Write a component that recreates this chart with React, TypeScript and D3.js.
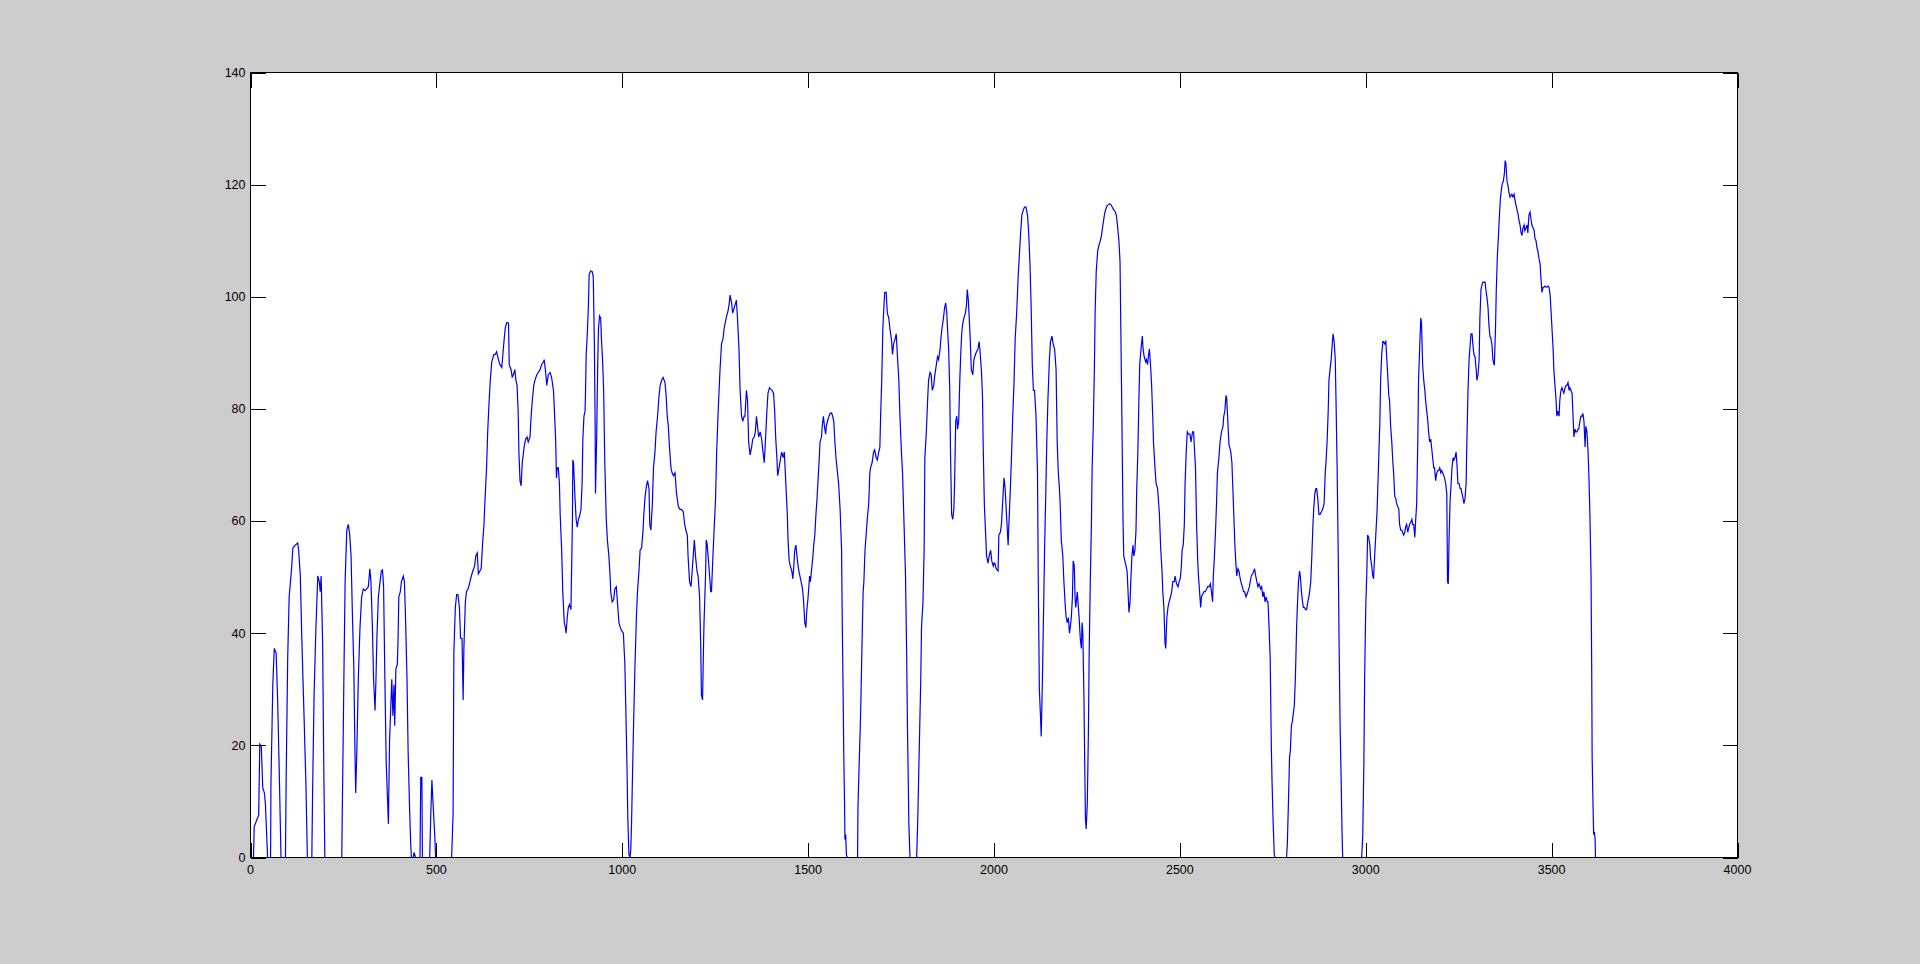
import React from "react";
import * as d3 from "d3";

// Tick values
const xTicks = [0, 500, 1000, 1500, 2000, 2500, 3000, 3500, 4000];
const yTicks = [0, 20, 40, 60, 80, 100, 120, 140];

// Series: [x, y]
const partA: [number, number][] = [
  [1,0],[8,0],[10,5.5],[13,6.0],[18,6.9],[22,7.5],[25,20.2],[29,19.8],[33,12.4],[37.5,11.5],[40,9.7],[46,0],[54,0],[55,13.3],[60,30.8],[64,37.3],[69,36.4],[73,28.1],[78,13.3],[82,0],[94,0],[96,14.3],[100,35.4],[104,46.5],[110,51.1],[114,55.2],[120.5,55.7],[127,56.1],[129.5,54.8],[134,50.2],[138,39.1],[144,25.3],[149,13.3],[153,0],[165,0],[167,11.5],[171,29.0],[176,41.0],[181,50.2],[185,49.2],[187.5,47.4],[190,50.2],[194,38.2],[197,17.0],[200,0],[245.5,0],[247,8.7],[251,30.8],[254.5,49.2],[259,58.4],[263,59.4],[267,57.5],[270.5,53.8],[274,43.7],[278,33.6],[281,18.9],[283,11.5],[286,18.9],[290,31.8],[294.5,41.0],[299,46.5],[303.5,47.9],[308,47.6],[312.5,47.9],[317,48.3],[321,51.5],[324,49.2],[328,41.0],[331,31.8],[335,26.2],[337.5,31.8],[340,39.1],[344,46.5],[347,48.3],[352,51.1],[355,51.3],[358,48.3],[361.5,31.8],[365,17.0],[369,9.7],[371,6.0],[374,20.7],[378,28.1],[380,31.8],[383,25.3],[386,30.8],[388,23.5],[391,33.6],[395,34.5],[397,39.1],[399,46.5],[403,47.4],[406,49.2],[411,50.2],[414,49.2],[417,42.8],[421,31.8],[424,18.9],[428,8.7],[431,2.3],[433,0],[438,0],[440,0.9],[444,0],[456,0],[458,14.3],[461,14.3],[462.5,0],[482,0],[485,7.8],[488,13.8],[491,9.7],[495.5,4.1],[498,0],[541,0],[545,7.8],[547,36.4],[551,44.6],[554.5,46.9],[558,46.9],[562,44.6],[565,39.1],[569,39.1],[572,28.1],[574,37.3],[578,45.6],[581,47.4],[585,47.9],[589,48.8],[594,50.2],[598,51.1],[603,52.0],[606,53.8],[610,54.3],[613,50.6],[617,51.1],[620.5,51.5],[624,55.7],[628,59.4],[631,64.0],[635,69.5],[638,75.9],[642,81.5],[645,85.1],[649,88.4],[654.5,89.7]
];

const partB: [number, number][] = [
  [658,89.7],[662,90.2],[667,88.8],[671,87.9],[676,87.4],[680,90.7],[685,94.3],[689,95.4],[694,95.3],[696,87.9],[701,87.0],[704,85.6],[709,86.5],[711,87.0],[714,85.1],[717,84.2],[720,79.6],[722,72.3],[725,67.2],[728,66.3],[731,70.4],[736,73.2],[740,74.6],[744,75.0],[747,74.1],[752,75.0],[754,77.8],[758,81.5],[762,84.2],[765,85.1],[770,86.1],[774,86.5],[779,87.0],[783,87.9],[788,88.4],[790,88.8],[794,86.5],[797,84.2],[801,86.1],[806,86.5],[810,85.6],[815,83.3],[817,80.5],[821,74.1],[823,67.7],[825,69.5],[828,69.5],[831,66.7],[833,61.2],[837,54.8],[840,47.4],[844,41.9],[847,41.0],[849,40.0],[852,42.8],[855,44.6],[858,45.1],[862,44.2],[866,60.3],[867,70.9],[869,70.4],[873,64.0],[876,60.3],[879,58.9],[882,60.3],[885,60.8],[889,62.1],[892,66.7],[894,74.6],[897,78.7],[900,79.6],[901,82.4],[903,89.7],[906,93.4],[909,98.5],[911,104.0],[915,104.6],[919,104.5],[922,103.6],[925,91.6],[927,77.8],[928,64.9],[931,74.1],[934,87.9],[936,94.3],[939,96.6],[942,96.2],[944,92.5],[947,88.8],[950,83.3],[953,70.4],[957,60.3],[960,56.6],[964,53.8],[967,50.6],[969,47.4],[973,45.6],[977,46.0],[980,47.9],[984,48.3],[987,45.6],[991,41.9],[995,41.0],[998,40.5],[1003,40.0],[1007,34.5],[1010,25.3],[1013,15.2],[1015,6.9],[1018,0.5],[1021,0],[1023,1.4],[1025,6.0],[1028,16.1],[1031,25.3],[1034,33.6],[1038,42.8],[1041,47.4],[1045,51.1],[1048,54.8],[1052,55.2],[1056,58.4],[1058,61.2],[1061,64.0],[1064,65.8],[1068,67.2],[1072,65.8],[1074,59.4],[1077,58.4],[1081,63.1],[1084,69.5],[1088,72.3],[1091,75.9],[1095,78.7],[1099,82.4],[1102,84.2],[1106,85.1],[1110,85.6],[1115,84.7],[1118,82.4],[1121,78.7],[1124,76.9],[1127,73.2],[1131,69.5],[1134,68.6],[1138,68.1],[1142,68.6],[1146,64.9],[1151,62.6],[1155,62.1],[1159,62.1],[1164,61.7],[1168,59.4],[1171,58.4],[1175,57.5],[1177,53.8],[1181,49.2],[1185,48.3],[1188,51.1],[1192,54.8],[1194,56.6],[1197,53.8],[1201,51.1],[1204,50.2],[1208,46.5],[1211,38.2],[1213,29.0],[1216,28.1],[1219,39.1],[1220,41.9],[1224,50.2],[1226,56.6],[1228,56.1],[1231,53.8],[1235,50.2],[1238,47.4],[1240,47.4],[1244,53.8],[1247,58.4],[1251,64.0],[1254,72.3],[1258,79.6],[1263,87.0],[1267,91.6],[1271,92.5],[1274,94.3],[1278,95.7],[1281,96.6],[1285,97.6],[1288,99.0],[1290,100.3],[1294,98.9],[1297,97.1],[1301,98.0],[1305,98.9],[1307,99.4],[1310,96.2],[1314,90.7],[1317,83.3],[1321,78.7],[1324,77.8],[1328,78.7]
];

const partC: [number, number][] = [
  [1330,78.7],[1334,83.3],[1337,81.5],[1340,74.1],[1344,71.8],[1348,73.2],[1351,74.6],[1355,75.0],[1358,75.9],[1361,78.7],[1364,76.9],[1367,75.0],[1371,75.9],[1375,74.6],[1378,72.7],[1382,70.4],[1385,74.1],[1389,79.6],[1392,82.8],[1396,83.8],[1400,83.5],[1403,83.3],[1407,82.8],[1410,79.6],[1413,74.6],[1416,71.3],[1418,68.1],[1422,69.5],[1426,71.3],[1429,72.3],[1433,71.3],[1436,72.3],[1440,66.7],[1444,61.2],[1446,56.6],[1449,52.9],[1452,52.0],[1456,51.1],[1459,49.7],[1461,51.5],[1464,54.8],[1467,55.7],[1470,53.8],[1472,52.5],[1475,51.1],[1478,50.2],[1481,49.2],[1484,48.3],[1487,46.5],[1491,41.9],[1494,41.0],[1496,43.7],[1500,46.5],[1504,50.2],[1506,49.2],[1509,51.1],[1513,53.8],[1515,55.7],[1518,57.5],[1521,61.2],[1524,64.0],[1527,67.7],[1530,71.3],[1532,74.1],[1536,75.0],[1538,76.9],[1541,78.7],[1544,76.9],[1547,75.5],[1549,76.9],[1552,77.8],[1556,78.7],[1559,79.2],[1563,79.3],[1566,78.7],[1569,77.8],[1572,74.1],[1575,71.3],[1579,68.6],[1582,66.7],[1586,62.1],[1590,54.8],[1592,41.0],[1594,29.9],[1596,17.9],[1598,9.7],[1599,3.2],[1601,4.1],[1603,0.5],[1605,0],[1633,0],[1634,8.7],[1637,16.1],[1640,22.6],[1642,28.1],[1645,38.2],[1648,47.4],[1650,49.2],[1653,54.8],[1656,57.5],[1659,60.3],[1663,63.1],[1666,68.6],[1668,69.5],[1672,70.4],[1676,72.3],[1679,72.7],[1683,71.3],[1686,70.9],[1690,72.3],[1693,73.2],[1695,78.7],[1698,85.1],[1701,94.3],[1703,97.1],[1706,100.8],[1710,100.8],[1713,97.1],[1717,96.2],[1720,94.3],[1724,92.5],[1727,89.7],[1730,91.6],[1734,92.5],[1737,93.4],[1740,89.7],[1744,85.1],[1747,78.7],[1751,72.3],[1754,68.6],[1758,59.4],[1762,50.2],[1765,36.4],[1767,24.4],[1769,15.2],[1771,6.0],[1774,0],[1792,0],[1795,6.9],[1797,13.3],[1800,22.6],[1803,31.8],[1805,41.0],[1809,45.6],[1812,54.8],[1814,71.3],[1818,75.9],[1822,82.4],[1824,85.1],[1828,86.5],[1831,86.1],[1834,83.3],[1838,84.2],[1840,85.6],[1843,87.0],[1846,88.4],[1848,89.3],[1851,88.8],[1855,90.7],[1857,92.5],[1860,94.3],[1864,96.2],[1867,98.0],[1870,98.9],[1873,97.1],[1875,94.3],[1878,90.7],[1881,83.3],[1883,72.3],[1886,61.2],[1889,60.3],[1892,62.1],[1894,66.7],[1897,77.8],[1900,78.7],[1902,76.4],[1905,77.8],[1908,85.1],[1910,88.8],[1913,93.4],[1916,95.3],[1919,96.2],[1923,97.1],[1926,98.5],[1928,101.3],[1931,99.4],[1934,95.3],[1936,92.5],[1939,87.0],[1943,86.1],[1946,88.8],[1950,89.7],[1953,90.2],[1957,90.7],[1960,92.0],[1962,90.7],[1966,87.0],[1969,82.4],[1971,73.2],[1974,63.1],[1977,58.4],[1980,53.8],[1984,52.5],[1987,53.8],[1991,54.8],[1994,52.9],[1998,52.0],[2000,52.5]
];

const partD: [number, number][] = [
  [2002,52.5],[2006,51.5],[2011,51.1],[2013,57.5],[2017,58.0],[2020,59.4],[2023,63.1],[2027,67.7],[2030,65.8],[2032,63.1],[2035,59.4],[2038,55.7],[2040,59.4],[2043,64.0],[2047,71.3],[2050,77.8],[2054,85.1],[2057,92.5],[2061,97.1],[2065,103.6],[2068,107.2],[2072,111.8],[2075,114.6],[2079,115.5],[2082,116.0],[2086,116.0],[2090,114.6],[2093,111.8],[2097,105.4],[2100,98.0],[2103,87.9],[2106,83.3],[2109,83.3],[2113,78.7],[2117,68.6],[2119,50.2],[2122,29.9],[2125,25.3],[2127,21.6],[2130,30.8],[2134,46.5],[2136,54.8],[2139,64.0],[2142,74.1],[2145,81.5],[2149,88.8],[2152,92.0],[2156,93.0],[2159,91.6],[2163,90.7],[2167,87.0],[2170,74.1],[2173,68.6],[2176,65.8],[2178,63.1],[2181,56.6],[2185,53.8],[2188,49.2],[2192,44.6],[2194,42.8],[2197,41.9],[2200,42.8],[2203,40.0],[2205,41.0],[2208,42.8],[2211,46.5],[2213,52.9],[2216,52.0],[2218,46.5],[2220,44.6],[2224,47.4],[2227,44.6],[2229,42.8],[2232,39.1],[2235,37.3],[2237,41.9],[2239,40.0],[2242,28.1],[2244,17.0],[2246,6.9],[2248,5.1],[2251,9.7],[2254,22.6],[2256,36.4],[2259,49.2],[2262,59.4],[2264,69.5],[2267,76.9],[2270,87.0],[2272,97.1],[2275,104.5],[2279,108.2],[2282,109.1],[2286,110.0],[2289,110.9],[2293,112.8],[2297,114.6],[2300,115.5],[2304,116.2],[2307,116.4],[2311,116.6],[2315,116.4],[2318,116.0],[2322,115.5],[2325,115.3],[2329,114.6],[2332,112.8],[2336,110.0],[2339,106.3],[2341,95.3],[2344,78.7],[2347,60.3],[2349,53.8],[2352,52.9],[2355,52.0],[2358,51.1],[2360,48.3],[2363,43.7],[2366,45.6],[2368,49.2],[2371,53.8],[2374,55.7],[2376,53.8],[2379,54.8],[2382,58.4],[2384,65.8],[2387,72.3],[2390,82.4],[2392,87.9],[2396,91.1],[2399,93.0],[2401,90.7],[2404,89.3],[2408,88.4],[2410,88.8],[2413,87.9],[2416,89.7],[2418,90.7],[2421,87.9],[2424,84.2],[2427,78.7],[2429,74.1],[2433,69.5],[2436,66.7],[2440,65.8],[2443,63.1],[2445,61.2],[2448,55.7],[2452,51.1],[2454,47.4],[2457,44.6],[2460,38.2],[2462,37.3],[2465,42.8],[2468,44.6],[2471,45.6],[2475,46.5],[2478,47.4],[2481,49.2],[2485,49.2],[2487,50.2],[2491,48.8],[2495,48.3],[2498,49.2],[2501,49.7],[2504,52.0],[2506,54.8],[2509,55.7],[2512,59.4],[2514,66.7],[2517,72.3],[2520,75.9],[2523,75.5],[2527,75.5],[2530,74.1],[2534,75.9],[2537,75.9],[2539,73.2],[2542,69.5],[2545,59.4],[2548,52.9],[2550,50.2],[2553,47.4],[2556,44.6],[2558,46.5],[2561,46.9],[2565,47.4],[2568,47.4],[2572,47.9],[2575,48.3],[2579,48.3],[2582,48.8],[2585,47.4],[2588,45.6],[2590,50.2],[2593,53.8],[2596,58.4],[2599,64.0],[2601,68.6],[2605,71.3],[2608,74.1],[2612,75.9],[2616,76.9],[2618,78.7],[2621,79.6],[2624,82.4],[2626,81.9],[2629,77.8],[2632,73.6],[2634,73.2],[2637,72.3],[2640,70.4],[2642,66.7],[2645,61.2],[2648,55.7],[2651,52.0],[2653,50.2],[2656,51.5],[2659,51.1],[2661,50.2],[2664,49.2],[2668,48.3],[2671,47.4]
];

const partE: [number, number][] = [
  [2674,47.4],[2678,46.5],[2683,47.4],[2687,48.3],[2692,50.2],[2696,50.6],[2701,51.5],[2704,50.2],[2707,49.2],[2710,48.3],[2713,48.8],[2717,47.9],[2720,48.3],[2723,46.5],[2726,47.4],[2729,45.6],[2732,46.5],[2735,45.6],[2737,45.6],[2740,41.0],[2743,35.4],[2746,19.8],[2748,13.3],[2751,6.0],[2754,0.5],[2756,0],[2787,0],[2789,2.3],[2792,9.7],[2795,17.9],[2797,18.9],[2800,23.5],[2803,24.4],[2806,26.2],[2808,27.2],[2811,32.7],[2814,41.0],[2816,44.6],[2819,49.2],[2822,51.1],[2824,50.2],[2827,47.4],[2830,45.6],[2832,44.6],[2835,44.6],[2838,44.2],[2841,44.2],[2844,45.6],[2847,46.5],[2849,47.4],[2852,49.2],[2855,53.8],[2858,59.4],[2860,62.1],[2863,64.9],[2866,65.8],[2868,65.8],[2871,64.0],[2874,61.2],[2877,61.2],[2881,61.7],[2884,62.1],[2888,63.1],[2891,68.6],[2893,70.4],[2896,74.1],[2899,79.6],[2901,85.1],[2904,87.0],[2907,88.8],[2909,90.7],[2912,93.4],[2915,92.0],[2918,88.8],[2920,81.5],[2923,69.5],[2926,53.8],[2928,40.0],[2931,23.5],[2934,13.3],[2936,5.1],[2938,0],[2989,0],[2992,4.1],[2995,17.0],[2997,31.8],[3000,44.6],[3003,51.1],[3005,57.5],[3008,57.1],[3011,55.7],[3013,53.4],[3016,52.0],[3019,50.2],[3021,49.7],[3024,53.8],[3027,57.5],[3030,61.2],[3032,64.9],[3035,71.3],[3038,77.8],[3040,85.1],[3043,89.7],[3046,92.0],[3048,92.0],[3051,91.6],[3054,92.0],[3056,89.7],[3059,86.1],[3062,82.4],[3064,81.5],[3067,76.9],[3070,74.1],[3073,70.4],[3075,68.6],[3078,64.4],[3081,64.0],[3083,63.1],[3086,62.6],[3089,62.1],[3091,59.4],[3094,58.4],[3097,58.4],[3099,58.0],[3102,57.5],[3105,58.0],[3107,58.9],[3110,59.4],[3113,58.0],[3116,58.9],[3118,59.4],[3121,59.8],[3124,60.3],[3126,59.4],[3129,59.4],[3132,57.1],[3134,59.8],[3137,63.1],[3140,74.1],[3142,85.1],[3145,90.7],[3148,96.2],[3150,95.3],[3153,87.9],[3156,85.1],[3159,83.3],[3161,81.5],[3164,79.6],[3167,77.8],[3169,75.9],[3172,74.1],[3175,74.6],[3177,73.2],[3180,71.3],[3183,69.5],[3185,69.5],[3188,67.2],[3191,68.6],[3194,69.0],[3196,69.0],[3199,69.5],[3202,68.6],[3204,69.0],[3207,68.6],[3210,68.1],[3212,67.7],[3215,66.7],[3218,64.9],[3220,49.2],[3222,48.8],[3224,56.6],[3227,63.9],[3229,65.8],[3232,69.5],[3235,71.3],[3237,70.9],[3240,71.3],[3243,72.3],[3245,70.4],[3248,66.7],[3251,66.7],[3254,65.8],[3256,65.8],[3259,64.9],[3262,64.0],[3264,63.1],[3267,64.0],[3270,66.7],[3272,74.1],[3275,83.3],[3278,88.8],[3280,90.7],[3283,93.4],[3286,93.4],[3288,91.6],[3291,89.7],[3294,89.3],[3297,87.0],[3299,85.1],[3302,86.1],[3305,88.8],[3307,96.2],[3310,101.3],[3313,102.2],[3315,102.6],[3318,102.6],[3321,102.6],[3323,101.3],[3326,99.9],[3329,98.0],[3331,95.3],[3334,93.0],[3337,92.5],[3340,91.1],[3342,88.8],[3345,87.9]
];

const partF: [number, number][] = [
  [3346,87.9],[3349,94.3],[3351,100.8],[3354,107.2],[3357,110.9],[3359,113.7],[3362,117.4],[3365,119.2],[3367,120.1],[3370,120.6],[3373,122.0],[3375,124.3],[3377,123.8],[3380,120.6],[3383,119.7],[3385,118.7],[3388,117.8],[3391,118.1],[3393,118.3],[3396,117.8],[3399,118.3],[3401,117.4],[3404,116.4],[3407,115.5],[3410,114.6],[3412,113.7],[3415,112.8],[3418,111.4],[3420,110.9],[3423,112.3],[3426,112.8],[3428,111.8],[3431,112.3],[3434,112.8],[3436,111.4],[3439,114.6],[3442,115.1],[3444,114.1],[3447,112.8],[3450,112.3],[3453,111.8],[3455,110.5],[3458,110.0],[3461,108.6],[3463,108.2],[3466,106.8],[3469,105.9],[3471,103.6],[3474,100.8],[3477,101.7],[3479,101.7],[3482,101.9],[3485,101.7],[3487,101.7],[3490,101.9],[3493,101.7],[3496,100.3],[3498,98.0],[3501,94.3],[3504,90.7],[3506,87.0],[3509,84.2],[3512,81.5],[3514,78.7],[3517,79.6],[3520,78.7],[3522,81.5],[3525,83.3],[3528,83.8],[3530,83.3],[3533,82.8],[3536,83.8],[3539,84.2],[3541,84.2],[3544,84.7],[3547,83.3],[3549,83.8],[3552,83.3],[3555,82.8],[3557,79.6],[3560,75.0],[3563,76.4],[3565,75.9],[3568,75.9],[3571,76.4],[3573,76.4],[3576,77.8],[3579,78.7],[3582,78.7],[3584,79.2],[3587,77.8],[3590,73.2],[3592,76.9],[3595,75.9],[3598,72.3],[3600,68.6],[3603,61.2],[3606,50.2],[3608,31.8],[3609,17.9],[3611,10.6],[3613,4.1],[3615,4.6],[3617,3.2],[3618,0],[3640,0]
];

const series: [number, number][] = [...partA, ...partB, ...partC, ...partD, ...partE, ...partF];

const W = 1920;
const H = 964;
const left = 250.5, right = 1737.5, top = 72.5, bottom = 857.5;

export default function App() {
  const x = d3.scaleLinear().domain([0, 4000]).range([left, right]);
  const y = d3.scaleLinear().domain([0, 140]).range([bottom, top]);
  const line = d3.line<[number, number]>().x(d => x(d[0])).y(d => y(d[1]));
  const tickLen = 15;
  const font = "'Liberation Sans', Arial, Helvetica, sans-serif";
  return (
    <svg width={W} height={H} style={{ position: "absolute", left: 0, top: 0, display: "block" }}>
      <rect x={0} y={0} width={W} height={H} fill="#cccccc" />
      <rect x={left} y={top} width={right - left} height={bottom - top} fill="#ffffff" />
      <path d={line(series) || ""} fill="none" stroke="#0000f0" strokeWidth={1.2} />
      <g stroke="#000" strokeWidth={1} shapeRendering="crispEdges">
        {xTicks.map(t => (
          <g key={"xt" + t}>
            <line x1={Math.round(x(t)) + 0.5} x2={Math.round(x(t)) + 0.5} y1={bottom} y2={bottom - tickLen} />
            <line x1={Math.round(x(t)) + 0.5} x2={Math.round(x(t)) + 0.5} y1={top} y2={top + tickLen} />
          </g>
        ))}
        {yTicks.map(t => (
          <g key={"yt" + t}>
            <line x1={left} x2={left + tickLen} y1={Math.round(y(t)) + 0.5} y2={Math.round(y(t)) + 0.5} />
            <line x1={right} x2={right - tickLen} y1={Math.round(y(t)) + 0.5} y2={Math.round(y(t)) + 0.5} />
          </g>
        ))}
        <rect x={left} y={top} width={right - left} height={bottom - top} fill="none" />
      </g>
      <g fontFamily={font} fontSize={12.5} fill="#000">
        {xTicks.map(t => (
          <text key={"xl" + t} x={x(t)} y={bottom + 16} textAnchor="middle">{t}</text>
        ))}
        {yTicks.map(t => (
          <text key={"yl" + t} x={left - 5} y={y(t)} dy="0.35em" textAnchor="end">{t}</text>
        ))}
      </g>
    </svg>
  );
}
